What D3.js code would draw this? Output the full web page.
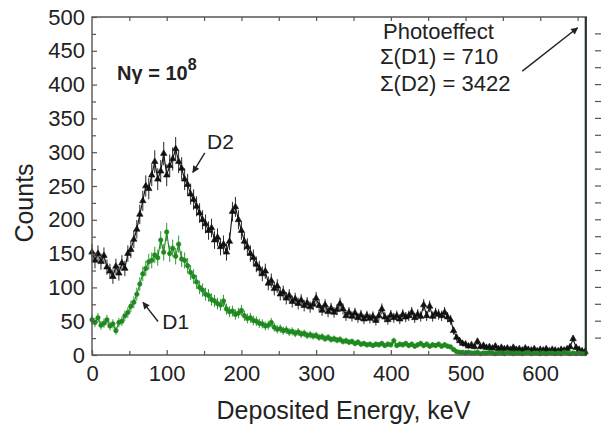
<!DOCTYPE html>
<html>
<head>
<meta charset="utf-8">
<script src="https://cdn.jsdelivr.net/npm/d3@7"></script>
<style>
  html, body { margin: 0; padding: 0; background: #fff; }
  svg { display: block; font-family: "Liberation Sans", Arial, sans-serif; }
</style>
</head>
<body>
<svg id="chart" width="601" height="428"></svg>
<script>
// ---- data (energy bins of 4 keV starting at 0) ----
const binStart = 0;
const binWidth = 4;
const countsD2 = [
  152,140,150,138,147,130,124,116,131,121,136,128,150,156,171,186,208,228,250,246,
  266,286,260,272,298,266,280,290,305,286,276,260,252,238,230,220,210,200,194,184,
  188,170,174,160,164,152,168,212,219,200,184,168,160,150,144,134,128,120,124,106,
  110,98,102,90,93,84,88,79,83,76,81,73,77,71,75,84,73,66,74,64,
  69,63,67,76,68,58,63,57,62,55,59,53,58,54,57,51,58,68,56,52,
  59,55,58,53,60,56,58,63,55,60,57,74,58,72,57,62,60,58,63,56,
  52,36,26,21,17,16,13,15,12,20,12,14,11,12,10,13,9,11,9,10,
  8,11,8,9,7,10,8,7,9,6,8,7,9,6,8,7,6,8,7,9,
  12,24,11,8,6,5
];
const countsD1 = [
  52,48,55,44,47,52,43,46,36,48,50,58,63,72,78,90,105,120,128,138,
  140,148,144,170,152,182,150,158,146,164,142,140,132,122,116,108,100,96,90,88,
  82,80,76,74,80,68,64,65,60,62,66,58,54,55,51,50,47,46,43,44,
  48,41,38,39,36,37,34,35,32,34,31,32,29,30,28,29,26,27,24,26,
  23,24,22,23,20,21,19,20,17,19,16,17,15,16,14,16,15,17,14,16,
  15,21,14,16,15,17,14,16,13,15,17,14,16,13,15,14,16,13,15,13,
  12,8,5,4,4,3,4,3,3,4,2,3,3,4,3,2,3,3,2,4,
  3,2,3,3,2,3,4,2,3,3,2,3,2,3,3,2,3,2,4,3,
  2,3,2,3,2,2
];
const xTickLabels = [0, 100, 200, 300, 400, 500, 600];
const yTickLabels = [0, 50, 100, 150, 200, 250, 300, 350, 400, 450, 500];
const photopeakEnergy = 661;
const xTitle = "Deposited Energy, keV";
const yTitle = "Counts";
const sumLines = ["Photoeffect", "\u03A3(D1) = 710", "\u03A3(D2) = 3422"];

// ---- build records ----
const energies = countsD2.map((_, i) => binStart + i * binWidth);
const d2 = countsD2.map((c, i) => ({ e: energies[i], c }));
const d1 = countsD1.map((c, i) => ({ e: energies[i], c }));

// ---- layout ----
const svg = d3.select("#chart");
const L = 92, R = 587, T = 17, B = 355;
const x = d3.scaleLinear().domain([0, 662.6]).range([L, R]);
const y = d3.scaleLinear().domain([0, 500]).range([B, T]);
const axisColor = "#555";
const textColor = "#222";

// ---- series ----
function drawSeries(data, color, symbol, size) {
  const g = svg.append("g");
  g.selectAll("line.err").data(data).join("line")
    .attr("x1", d => x(d.e)).attr("x2", d => x(d.e))
    .attr("y1", d => y(Math.max(0, d.c - Math.sqrt(d.c))))
    .attr("y2", d => y(d.c + Math.sqrt(d.c)))
    .attr("stroke", color).attr("stroke-width", 0.9);
  g.append("path").datum(data)
    .attr("d", d3.line().x(d => x(d.e)).y(d => y(d.c)))
    .attr("fill", "none").attr("stroke", color).attr("stroke-width", 1.1);
  g.selectAll("path.pt").data(data).join("path")
    .attr("class", "pt")
    .attr("transform", d => `translate(${x(d.e)},${y(d.c)})`)
    .attr("d", d3.symbol().type(symbol).size(size))
    .attr("fill", color).attr("stroke", color).attr("stroke-width", 0.6);
}
drawSeries(d2, "#111", d3.symbolTriangle, 18);
drawSeries(d1, "#1e8a1e", d3.symbolCircle, 16);

// ---- axes ----
const gx = svg.append("g").attr("transform", `translate(0,${B})`)
  .call(d3.axisBottom(x).tickValues(xTickLabels).tickSize(-5).tickPadding(10).tickFormat(d3.format("d")));
const gxm = svg.append("g").attr("transform", `translate(0,${B})`)
  .call(d3.axisBottom(x).tickValues([50,150,250,350,450,550,650]).tickSize(-4).tickFormat(""));
const gxt = svg.append("g").attr("transform", `translate(0,${T})`)
  .call(d3.axisTop(x).tickValues([50,100,150,200,250,300,350,400,450,500,550,600,650]).tickSize(-4).tickFormat(""));
const gy = svg.append("g").attr("transform", `translate(${L},0)`)
  .call(d3.axisLeft(y).tickValues(yTickLabels).tickSize(-5).tickPadding(7).tickFormat(d3.format("d")));
const gym = svg.append("g").attr("transform", `translate(${L},0)`)
  .call(d3.axisLeft(y).tickValues(d3.range(25, 500, 50)).tickSize(-4).tickFormat(""));
[gx, gxm, gxt, gy, gym].forEach(g => {
  g.select(".domain").remove();
  g.selectAll(".tick line").attr("stroke", axisColor).attr("stroke-width", 1.2);
  g.selectAll(".tick text").attr("fill", textColor).style("font-size", "22px")
    .style("font-family", "Liberation Sans, Arial, sans-serif");
});

// frame
svg.append("path")
  .attr("d", `M${R},${T}H${L}V${B}H${R}`)
  .attr("fill", "none").attr("stroke", axisColor).attr("stroke-width", 1.4);
// right edge / photopeak line
svg.append("line")
  .attr("x1", x(photopeakEnergy)).attr("x2", x(photopeakEnergy))
  .attr("y1", T).attr("y2", B)
  .attr("stroke", "#253525").attr("stroke-width", 2.2);
// outer right ticks
svg.append("g").selectAll("line").data(d3.range(25, 500, 25)).join("line")
  .attr("x1", 595).attr("x2", 601)
  .attr("y1", d => y(d)).attr("y2", d => y(d))
  .attr("stroke", axisColor).attr("stroke-width", 1.2);

// titles
svg.append("text").attr("x", (L + R) / 2 + 4).attr("y", 419)
  .attr("text-anchor", "middle").attr("fill", textColor)
  .style("font-size", "25px").text(xTitle);
svg.append("text").attr("transform", "translate(33,203) rotate(-90)")
  .attr("text-anchor", "middle").attr("fill", textColor)
  .style("font-size", "25px").text(yTitle);

// annotations
const ann = svg.append("g").attr("fill", textColor).style("font-size", "22px");
ann.append("text").attr("x", x(389.5)).attr("y", y(467)).text(sumLines[0]);
ann.append("text").attr("x", x(385.5)).attr("y", y(431)).text(sumLines[1]);
ann.append("text").attr("x", x(385.5)).attr("y", y(391)).text(sumLines[2]);

const ng = svg.append("text").attr("x", x(33.5)).attr("y", y(407))
  .attr("fill", textColor).style("font-size", "20px").style("font-weight", "bold");
ng.append("tspan").text("N\u03B3 = 10");
ng.append("tspan").attr("dy", -10).style("font-size", "16px").text("8");

svg.append("text").attr("x", x(154)).attr("y", y(305)).attr("fill", textColor)
  .style("font-size", "21px").text("D2");
svg.append("text").attr("x", x(94)).attr("y", y(38.5)).attr("fill", textColor)
  .style("font-size", "21px").text("D1");

// arrows
const defs = svg.append("defs");
defs.append("marker").attr("id", "ah").attr("viewBox", "0 0 10 10")
  .attr("refX", 9).attr("refY", 5).attr("markerWidth", 9).attr("markerHeight", 7)
  .attr("markerUnits", "userSpaceOnUse").attr("orient", "auto")
  .append("path").attr("d", "M0,0L10,5L0,10z").attr("fill", textColor);
function arrow(e1, c1, e2, c2) {
  svg.append("line")
    .attr("x1", x(e1)).attr("y1", y(c1)).attr("x2", x(e2)).attr("y2", y(c2))
    .attr("stroke", textColor).attr("stroke-width", 1.4).attr("marker-end", "url(#ah)");
}
arrow(576, 420, 650, 484);
arrow(151, 299, 135, 270);
arrow(88.4, 49.6, 68.3, 77.8);
</script>
</body>
</html>
